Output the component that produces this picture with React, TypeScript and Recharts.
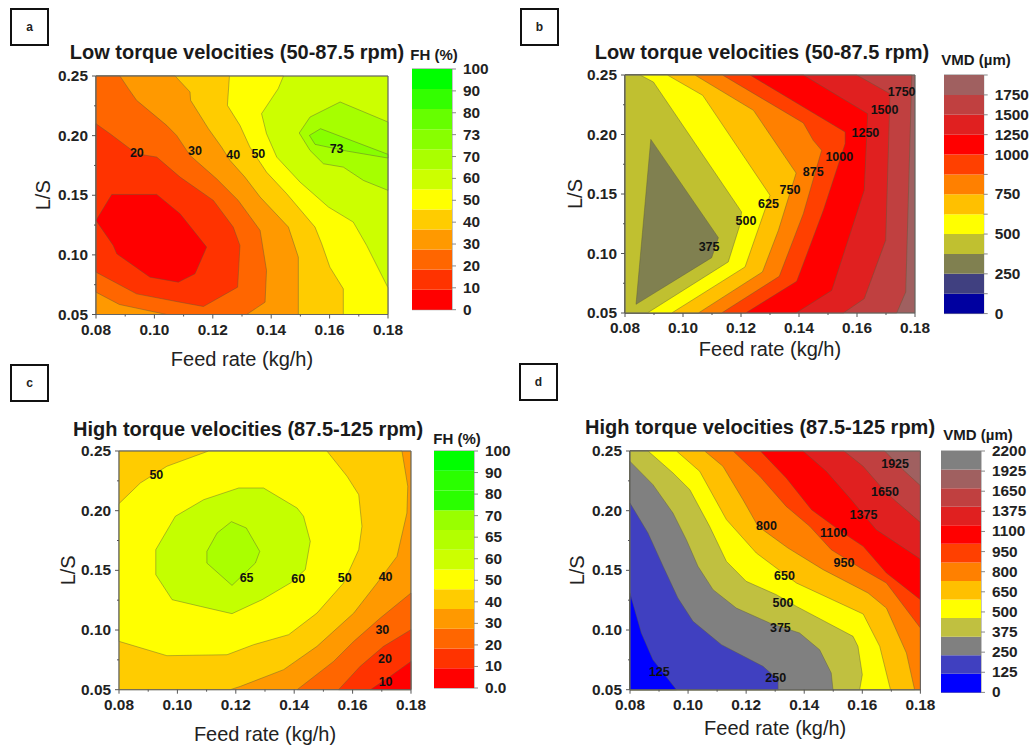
import { Bar, BarChart, ReferenceArea, Scatter, ScatterChart, XAxis, YAxis } from "recharts";

type Pt = [number, number];
type Layer = { fill: string; points: Pt[] };
type Note = { x: number; y: number; text: string };

const FONT = "'Liberation Sans', Arial, sans-serif";

const xTicks = [0.08, 0.09, 0.1, 0.11, 0.12, 0.13, 0.14, 0.15, 0.16, 0.17, 0.18];
const xMajor = [0.08, 0.1, 0.12, 0.14, 0.16, 0.18];
const yTicks = [0.05, 0.075, 0.1, 0.125, 0.15, 0.175, 0.2, 0.225, 0.25];
const yMajor = [0.05, 0.1, 0.15, 0.2, 0.25];

const fullRect: Pt[] = [[0.08, 0.05], [0.08, 0.25], [0.18, 0.25], [0.18, 0.05]];

// panel a
const a60: Pt[] = [[0.1442, 0.25], [0.1424, 0.2394], [0.1367, 0.2184], [0.1384, 0.2016], [0.1419, 0.182], [0.1499, 0.161], [0.1596, 0.1401], [0.1681, 0.1275], [0.1727, 0.1079], [0.18, 0.0724], [0.18, 0.05], [0.08, 0.05], [0.08, 0.25]];
const a50: Pt[] = [[0.1257, 0.25], [0.125, 0.2254], [0.1293, 0.2086], [0.1327, 0.1904], [0.1384, 0.1694], [0.1453, 0.1513], [0.155, 0.1233], [0.1573, 0.1093], [0.1601, 0.0897], [0.1647, 0.0715], [0.1647, 0.05], [0.08, 0.05], [0.08, 0.25]];
const a40: Pt[] = [[0.1071, 0.25], [0.1122, 0.2366], [0.1124, 0.2296], [0.1185, 0.2058], [0.123, 0.1904], [0.1259, 0.1792], [0.131, 0.1652], [0.1362, 0.1485], [0.1459, 0.1233], [0.1493, 0.0981], [0.1493, 0.05], [0.08, 0.05], [0.08, 0.25]];
const a30: Pt[] = [[0.0882, 0.25], [0.0911, 0.2394], [0.0939, 0.2296], [0.1042, 0.2086], [0.1076, 0.2002], [0.1122, 0.1834], [0.1213, 0.1638], [0.1287, 0.1457], [0.1362, 0.1205], [0.1384, 0.0869], [0.1379, 0.0603], [0.1316, 0.05], [0.1042, 0.05], [0.088, 0.0584], [0.08, 0.0687], [0.08, 0.25]];
const a20: Pt[] = [[0.08, 0.21], [0.0848, 0.2016], [0.0939, 0.1848], [0.1008, 0.182], [0.1088, 0.1652], [0.1202, 0.1457], [0.127, 0.1233], [0.1293, 0.1079], [0.1285, 0.0729], [0.1168, 0.0567], [0.1088, 0.0603], [0.0939, 0.0673], [0.08, 0.0855]];
const a10: Pt[] = [[0.08, 0.1289], [0.0854, 0.1507], [0.1008, 0.1507], [0.1088, 0.1345], [0.1179, 0.1065], [0.1139, 0.0841], [0.1082, 0.0771], [0.0985, 0.0813], [0.0871, 0.1009], [0.0859, 0.1079]];
const a70: Pt[] = [[0.18, 0.2114], [0.1636, 0.2282], [0.1533, 0.2156], [0.1496, 0.2022], [0.1533, 0.1876], [0.1579, 0.1764], [0.1647, 0.1736], [0.1716, 0.1624], [0.18, 0.1541]];
const a73: Pt[] = [[0.18, 0.1843], [0.1569, 0.2058], [0.1531, 0.2002], [0.155, 0.1927], [0.1658, 0.1871], [0.18, 0.1812]];
const aNotes: Note[] = [
  { x: 0.094, y: 0.1859, text: "20" },
  { x: 0.1139, y: 0.1873, text: "30" },
  { x: 0.127, y: 0.1843, text: "40" },
  { x: 0.1356, y: 0.1848, text: "50" },
  { x: 0.1624, y: 0.1896, text: "73" },
];

// panel b
const bL9: Pt[] = [[0.1789, 0.25], [0.1768, 0.0676], [0.1737, 0.05], [0.08, 0.05], [0.08, 0.25]];
const bL8: Pt[] = [[0.1599, 0.25], [0.1714, 0.2343], [0.1699, 0.1111], [0.1625, 0.062], [0.1553, 0.05], [0.08, 0.05], [0.08, 0.25]];
const bL7: Pt[] = [[0.1415, 0.25], [0.1637, 0.2175], [0.1625, 0.1531], [0.1513, 0.069], [0.139, 0.05], [0.08, 0.05], [0.08, 0.25]];
const bL6: Pt[] = [[0.1231, 0.25], [0.1559, 0.2021], [0.1559, 0.1923], [0.1484, 0.1363], [0.1392, 0.0766], [0.1216, 0.05], [0.08, 0.05], [0.08, 0.25]];
const bL5: Pt[] = [[0.1136, 0.25], [0.1415, 0.2097], [0.1449, 0.1951], [0.1478, 0.1867], [0.1415, 0.1335], [0.1332, 0.0808], [0.1133, 0.05], [0.08, 0.05], [0.08, 0.25]];
const bL4: Pt[] = [[0.1041, 0.25], [0.1243, 0.2203], [0.139, 0.1676], [0.1329, 0.1195], [0.1274, 0.0845], [0.1053, 0.05], [0.08, 0.05], [0.08, 0.25]];
const bL3: Pt[] = [[0.0946, 0.25], [0.1068, 0.2329], [0.13, 0.1489], [0.1214, 0.0887], [0.0961, 0.05], [0.08, 0.05], [0.08, 0.25]];
const bL2: Pt[] = [[0.0852, 0.25], [0.0898, 0.2441], [0.1202, 0.1349], [0.1194, 0.1223], [0.1156, 0.0929], [0.0877, 0.05], [0.08, 0.05], [0.08, 0.25]];
const bL1: Pt[] = [[0.0889, 0.1959], [0.1122, 0.1133], [0.1099, 0.0965], [0.0838, 0.0573]];
const bNotes: Note[] = [
  { x: 0.1754, y: 0.2363, text: "1750" },
  { x: 0.1695, y: 0.2206, text: "1500" },
  { x: 0.1629, y: 0.2021, text: "1250" },
  { x: 0.1539, y: 0.1817, text: "1000" },
  { x: 0.1449, y: 0.169, text: "875" },
  { x: 0.1369, y: 0.1536, text: "750" },
  { x: 0.1295, y: 0.1419, text: "625" },
  { x: 0.1217, y: 0.1281, text: "500" },
  { x: 0.109, y: 0.106, text: "375" },
];

// panel c
const c40: Pt[] = [[0.1769, 0.25], [0.1789, 0.2204], [0.1786, 0.198], [0.1752, 0.1617], [0.1684, 0.1394], [0.1604, 0.1142], [0.1478, 0.0863], [0.1364, 0.0668], [0.1216, 0.0528], [0.1181, 0.05], [0.08, 0.05], [0.08, 0.25]];
const c50: Pt[] = [[0.1107, 0.25], [0.0964, 0.2372], [0.0873, 0.2232], [0.08, 0.2059], [0.08, 0.0905], [0.0964, 0.0785], [0.117, 0.0793], [0.1261, 0.0877], [0.1381, 0.0961], [0.1478, 0.1142], [0.1569, 0.1394], [0.1621, 0.1673], [0.1632, 0.1869], [0.1621, 0.2134], [0.1581, 0.2288], [0.1512, 0.25]];
const c60: Pt[] = [[0.121, 0.219], [0.1295, 0.219], [0.141, 0.2022], [0.1432, 0.1953], [0.1455, 0.1743], [0.1438, 0.1506], [0.1387, 0.1394], [0.129, 0.1254], [0.1187, 0.1137], [0.1079, 0.1198], [0.0982, 0.1254], [0.0926, 0.1464], [0.0926, 0.1673], [0.0993, 0.1953], [0.109, 0.2092]];
const c65: Pt[] = [[0.1185, 0.1908], [0.1236, 0.1855], [0.1282, 0.1659], [0.1267, 0.1561], [0.1187, 0.1374], [0.1101, 0.1561], [0.1101, 0.1659], [0.1136, 0.1813]];
const c30: Pt[] = [[0.18, 0.131], [0.1695, 0.1101], [0.1604, 0.0905], [0.1535, 0.0737], [0.141, 0.05], [0.18, 0.05]];
const c20: Pt[] = [[0.18, 0.1003], [0.1706, 0.0863], [0.1626, 0.0696], [0.1552, 0.05], [0.18, 0.05]];
const c10: Pt[] = [[0.18, 0.0737], [0.1729, 0.0612], [0.1661, 0.05], [0.18, 0.05]];
const cNotes: Note[] = [
  { x: 0.0928, y: 0.2299, text: "50" },
  { x: 0.1237, y: 0.1439, text: "65" },
  { x: 0.1414, y: 0.143, text: "60" },
  { x: 0.1573, y: 0.1441, text: "50" },
  { x: 0.1713, y: 0.1447, text: "40" },
  { x: 0.1702, y: 0.1003, text: "30" },
  { x: 0.1711, y: 0.076, text: "20" },
  { x: 0.1713, y: 0.0567, text: "10" },
];

// panel d
const dD1: Pt[] = [[0.1677, 0.25], [0.174, 0.2344], [0.18, 0.221], [0.18, 0.05], [0.08, 0.05], [0.08, 0.25]];
const dD2: Pt[] = [[0.1537, 0.25], [0.1603, 0.2372], [0.1683, 0.2148], [0.18, 0.1902], [0.18, 0.05], [0.08, 0.05], [0.08, 0.25]];
const dD3: Pt[] = [[0.1396, 0.25], [0.1476, 0.233], [0.1557, 0.2106], [0.1648, 0.1841], [0.18, 0.1595], [0.18, 0.05], [0.08, 0.05], [0.08, 0.25]];
const dD4: Pt[] = [[0.1249, 0.25], [0.1338, 0.2274], [0.1425, 0.2008], [0.1534, 0.1813], [0.1603, 0.1701], [0.1683, 0.1478], [0.18, 0.1254], [0.18, 0.05], [0.08, 0.05], [0.08, 0.25]];
const dD5: Pt[] = [[0.1155, 0.25], [0.1247, 0.2288], [0.1338, 0.2036], [0.1419, 0.1869], [0.1493, 0.1673], [0.1603, 0.1506], [0.1683, 0.1394], [0.18, 0.1017], [0.18, 0.05], [0.08, 0.05], [0.08, 0.25]];
const dD6: Pt[] = [[0.1057, 0.25], [0.112, 0.2372], [0.1189, 0.2092], [0.1241, 0.1869], [0.1344, 0.1687], [0.1465, 0.1506], [0.162, 0.131], [0.1683, 0.1184], [0.1752, 0.0807], [0.178, 0.05], [0.08, 0.05], [0.08, 0.25]];
const dD7: Pt[] = [[0.096, 0.25], [0.104, 0.233], [0.1132, 0.1925], [0.1235, 0.1645], [0.1373, 0.1394], [0.1603, 0.1134], [0.166, 0.0863], [0.1697, 0.05], [0.08, 0.05], [0.08, 0.25]];
const dD8: Pt[] = [[0.0862, 0.25], [0.0948, 0.2316], [0.1006, 0.2176], [0.1074, 0.1869], [0.1132, 0.1575], [0.12, 0.1408], [0.1304, 0.1296], [0.1373, 0.1198], [0.1568, 0.0947], [0.1585, 0.0863], [0.16, 0.0626], [0.1591, 0.05], [0.08, 0.05], [0.08, 0.25]];
const dD9: Pt[] = [[0.08, 0.2413], [0.0879, 0.2218], [0.0948, 0.198], [0.0994, 0.1757], [0.1034, 0.1534], [0.1086, 0.1338], [0.1166, 0.1184], [0.1281, 0.1059], [0.1384, 0.0975], [0.1453, 0.0835], [0.1493, 0.064], [0.1499, 0.05], [0.08, 0.05]];
const dD10: Pt[] = [[0.08, 0.2064], [0.0862, 0.1813], [0.0914, 0.1534], [0.0965, 0.1268], [0.1017, 0.1073], [0.1115, 0.0877], [0.1258, 0.0696], [0.131, 0.0584], [0.131, 0.05], [0.08, 0.05]];
const dD11: Pt[] = [[0.08, 0.131], [0.0839, 0.0975], [0.0879, 0.0751], [0.096, 0.05], [0.08, 0.05]];
const dNotes: Note[] = [
  { x: 0.1713, y: 0.2397, text: "1925" },
  { x: 0.1678, y: 0.2162, text: "1650" },
  { x: 0.1604, y: 0.1972, text: "1375" },
  { x: 0.1501, y: 0.1816, text: "1100" },
  { x: 0.1537, y: 0.1567, text: "950" },
  { x: 0.127, y: 0.1872, text: "800" },
  { x: 0.1332, y: 0.1455, text: "650" },
  { x: 0.1327, y: 0.1232, text: "500" },
  { x: 0.1318, y: 0.102, text: "375" },
  { x: 0.1302, y: 0.0598, text: "250" },
  { x: 0.0901, y: 0.0654, text: "125" },
];

// colour bars, bottom to top
const aBands = ["#ff0000", "#ff3300", "#ff6600", "#ff9900", "#ffcc00", "#ffff00", "#ccff00", "#aaff00", "#88ff00", "#66ff00", "#33ff00", "#00ff00"];
const bBands = ["#0000a0", "#404080", "#808050", "#c0c030", "#ffff00", "#ffc000", "#ff8000", "#ff4000", "#ff0000", "#e02020", "#c04040", "#a06060"];
const cBands = ["#ff0000", "#ff3300", "#ff6600", "#ff9900", "#ffcc00", "#ffff00", "#ccff00", "#b3ff00", "#99ff00", "#2aff00", "#2aff00", "#00ff00"];
const dBands = ["#0000ff", "#4040c0", "#808080", "#c0c040", "#ffff00", "#ffc000", "#ff8000", "#ff4000", "#ff0000", "#e02020", "#c04040", "#a06060", "#808080"];
const aLabels = ["0", "10", "20", "30", "40", "50", "60", "70", "73", "80", "90", "100"];
const bLabels = ["0", "", "250", "", "500", "", "750", "", "1000", "1250", "1500", "1750", ""];
const cLabels = ["0.0", "10", "20", "30", "40", "50", "60", "65", "70", "80", "90", "100"];
const dLabels = ["0", "125", "250", "375", "500", "650", "800", "950", "1100", "1375", "1650", "1925", "2200"];

const aLayers: Layer[] = [
  { fill: "#ccff00", points: fullRect },
  { fill: "#ffff00", points: a60 },
  { fill: "#ffcc00", points: a50 },
  { fill: "#ff9900", points: a40 },
  { fill: "#ff6600", points: a30 },
  { fill: "#ff3300", points: a20 },
  { fill: "#ff0000", points: a10 },
  { fill: "#a6ff00", points: a70 },
  { fill: "#88ff00", points: a73 },
];
const bLayers: Layer[] = [
  { fill: "#a06060", points: fullRect },
  { fill: "#c04040", points: bL9 },
  { fill: "#e02020", points: bL8 },
  { fill: "#ff0000", points: bL7 },
  { fill: "#ff4000", points: bL6 },
  { fill: "#ff8000", points: bL5 },
  { fill: "#ffc000", points: bL4 },
  { fill: "#ffff00", points: bL3 },
  { fill: "#c0c030", points: bL2 },
  { fill: "#808050", points: bL1 },
];
const cLayers: Layer[] = [
  { fill: "#ff9900", points: fullRect },
  { fill: "#ffcc00", points: c40 },
  { fill: "#ffff00", points: c50 },
  { fill: "#c4ff00", points: c60 },
  { fill: "#aaff00", points: c65 },
  { fill: "#ff6600", points: c30 },
  { fill: "#ff3300", points: c20 },
  { fill: "#ff0000", points: c10 },
];
const dLayers: Layer[] = [
  { fill: "#a06060", points: fullRect },
  { fill: "#c04040", points: dD1 },
  { fill: "#e02020", points: dD2 },
  { fill: "#ff0000", points: dD3 },
  { fill: "#ff4000", points: dD4 },
  { fill: "#ff8000", points: dD5 },
  { fill: "#ffc000", points: dD6 },
  { fill: "#ffff00", points: dD7 },
  { fill: "#c0c040", points: dD8 },
  { fill: "#808080", points: dD9 },
  { fill: "#4040c0", points: dD10 },
  { fill: "#0000ff", points: dD11 },
];

const toRows = (pts: Pt[]) => [...pts, pts[0]].map(([x, y]) => ({ x, y }));
const near = (list: number[], v: number) => list.some((m) => Math.abs(m - v) < 1e-6);
const NoDot = () => <g />;

function XTick({ x, y, payload }: any) {
  const major = near(xMajor, payload.value);
  return (
    <g>
      <line x1={x} x2={x} y1={y} y2={y + (major ? 4 : 2)} stroke="#555" />
      {major && (
        <text x={x} y={y + 20} textAnchor="middle" fontSize={15.4} fontWeight="bold" fill="#222" fontFamily={FONT}>
          {payload.value.toFixed(2)}
        </text>
      )}
    </g>
  );
}

function YTick({ x, y, payload }: any) {
  const major = near(yMajor, payload.value);
  return (
    <g>
      <line x1={x} x2={x - (major ? 4 : 2)} y1={y} y2={y} stroke="#555" />
      {major && (
        <text x={x - 8} y={y + 5} textAnchor="end" fontSize={15.4} fontWeight="bold" fill="#222" fontFamily={FONT}>
          {payload.value.toFixed(2)}
        </text>
      )}
    </g>
  );
}

function NoteMark({ cx, cy, payload }: any) {
  return (
    <text x={cx} y={cy + 4.5} textAnchor="middle" fontSize={12.5} fontWeight="bold" fill="#111" fontFamily={FONT}>
      {payload.text}
    </text>
  );
}

function ContourPanel({ box, layers, notes, xLabelDy, yLabelDx }: any) {
  const plotW = box.x1 - box.x0;
  const plotH = box.y1 - box.y0;
  return (
    <div style={{ position: "absolute", left: box.x0 - 75, top: box.y0 - 10 }}>
      <ScatterChart width={plotW + 100} height={plotH + 70} margin={{ top: 10, right: 25, bottom: 0, left: 0 }}>
        <XAxis
          type="number"
          dataKey="x"
          domain={[0.08, 0.18]}
          ticks={xTicks}
          interval={0}
          height={60}
          tickSize={0}
          tickMargin={0}
          tickLine={false}
          axisLine={false}
          tick={<XTick />}
          label={{ value: "Feed rate (kg/h)", position: "center", dy: xLabelDy, fontSize: 20, fill: "#222", fontFamily: FONT }}
        />
        <YAxis
          type="number"
          dataKey="y"
          domain={[0.05, 0.25]}
          ticks={yTicks}
          interval={0}
          width={75}
          tickSize={0}
          tickMargin={0}
          tickLine={false}
          axisLine={false}
          tick={<YTick />}
          label={{ value: "L/S", angle: -90, position: "center", dx: yLabelDx, fontSize: 20, fill: "#222", fontFamily: FONT }}
        />
        {layers.map((layer: Layer, i: number) => (
          <Scatter
            key={i}
            data={toRows(layer.points)}
            shape={NoDot}
            isAnimationActive={false}
            line={{ fill: layer.fill, stroke: "#5a5a3a", strokeOpacity: 0.6, strokeWidth: 0.7 }}
          />
        ))}
        <Scatter
          data={toRows(fullRect)}
          shape={NoDot}
          isAnimationActive={false}
          line={{ fill: "none", stroke: "#666", strokeWidth: 1 }}
        />
        <Scatter data={notes} shape={NoteMark} isAnimationActive={false} />
      </ScatterChart>
    </div>
  );
}

function ColorScale({ box, bands, labels }: any) {
  const row: Record<string, number | string> = { cat: "scale" };
  bands.forEach((_: string, i: number) => {
    row[`b${i}`] = 1;
  });
  const top = bands.length;
  const step = top / (labels.length - 1);
  const ticks = labels.map((_: string, i: number) => i * step);
  const Tick = ({ x, y, payload }: any) => {
    const label = labels[Math.round(payload.value / step)];
    return (
      <g>
        <line x1={x} x2={x + 4} y1={y} y2={y} stroke="#888" />
        <text x={x + 11} y={y + 5} fontSize={15.4} fontWeight="bold" fill="#222" fontFamily={FONT}>
          {label}
        </text>
      </g>
    );
  };
  return (
    <div style={{ position: "absolute", left: box.x0, top: box.y0 - 10 }}>
      <BarChart
        width={box.x1 - box.x0 + 60}
        height={box.y1 - box.y0 + 20}
        data={[row]}
        barCategoryGap={0}
        margin={{ top: 10, right: 0, bottom: 10, left: 0 }}
      >
        <XAxis dataKey="cat" hide />
        <YAxis
          orientation="right"
          type="number"
          domain={[0, top]}
          ticks={ticks}
          interval={0}
          width={60}
          tickSize={0}
          tickMargin={0}
          tickLine={false}
          axisLine={false}
          tick={<Tick />}
        />
        {bands.map((color: string, i: number) => (
          <Bar key={i} dataKey={`b${i}`} stackId="scale" fill={color} isAnimationActive={false} />
        ))}
        <ReferenceArea y1={0} y2={top} fill="none" stroke="#888" strokeWidth={1} ifOverflow="visible" />
      </BarChart>
    </div>
  );
}

function Caption({ x, y, size, text }: { x: number; y: number; size: number; text: string }) {
  return (
    <div
      style={{
        position: "absolute",
        left: x,
        top: y,
        transform: "translate(-50%, -50%)",
        whiteSpace: "nowrap",
        fontFamily: FONT,
        fontWeight: "bold",
        fontSize: size,
        color: "#1a1a1a",
      }}
    >
      {text}
    </div>
  );
}

function Tag({ x, y, text }: { x: number; y: number; text: string }) {
  return (
    <div
      style={{
        position: "absolute",
        left: x,
        top: y,
        width: 35,
        height: 34,
        border: "2px solid #111",
        display: "flex",
        alignItems: "center",
        justifyContent: "center",
        fontFamily: FONT,
        fontWeight: "bold",
        fontSize: 12,
        color: "#222",
      }}
    >
      {text}
    </div>
  );
}

export default function App() {
  return (
    <div style={{ position: "absolute", left: 0, top: 0, width: 1036, height: 746, background: "#fff", overflow: "hidden" }}>
      <Tag x={10} y={8} text="a" />
      <Tag x={520} y={8} text="b" />
      <Tag x={10} y={364} text="c" />
      <Tag x={519} y={363} text="d" />

      <Caption x={237} y={52} size={20} text="Low torque velocities (50-87.5 rpm)" />
      <Caption x={762} y={52} size={20} text="Low torque velocities (50-87.5 rpm)" />
      <Caption x={248} y={429} size={20} text="High torque velocities (87.5-125 rpm)" />
      <Caption x={760} y={427} size={20} text="High torque velocities (87.5-125 rpm)" />
      <Caption x={434} y={54} size={15} text="FH (%)" />
      <Caption x={976} y={59} size={15} text="VMD (µm)" />
      <Caption x={457} y={438} size={15} text="FH (%)" />
      <Caption x={978} y={434} size={15} text="VMD (µm)" />

      <ContourPanel box={{ x0: 96, x1: 388, y0: 75.5, y1: 314 }} layers={aLayers} notes={aNotes} xLabelDy={14} yLabelDx={-15.5} />
      <ContourPanel box={{ x0: 625, x1: 915, y0: 74.7, y1: 312.7 }} layers={bLayers} notes={bNotes} xLabelDy={6} yLabelDx={-12.5} />
      <ContourPanel box={{ x0: 118.7, x1: 410.7, y0: 451.3, y1: 690 }} layers={cLayers} notes={cNotes} xLabelDy={14} yLabelDx={-13.2} />
      <ContourPanel box={{ x0: 630.3, x1: 920.7, y0: 451.3, y1: 690 }} layers={dLayers} notes={dNotes} xLabelDy={8} yLabelDx={-15.8} />

      <ColorScale box={{ x0: 412, x1: 452, y0: 69.3, y1: 310 }} bands={aBands} labels={aLabels} />
      <ColorScale box={{ x0: 944.3, x1: 984, y0: 74.7, y1: 313.3 }} bands={bBands} labels={bLabels} />
      <ColorScale box={{ x0: 434, x1: 474, y0: 451, y1: 688 }} bands={cBands} labels={cLabels} />
      <ColorScale box={{ x0: 941, x1: 981, y0: 451.3, y1: 692.7 }} bands={dBands} labels={dLabels} />
    </div>
  );
}
